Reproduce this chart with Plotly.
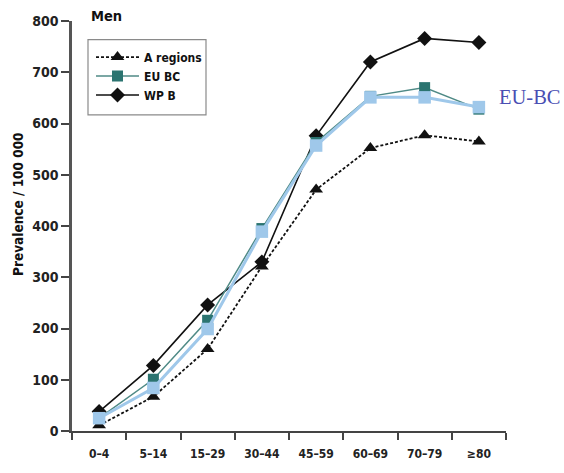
import plotly.graph_objects as go

categories = ["0–4", "5–14", "15–29", "30–44", "45–59", "60–69", "70–79", "≥80"]
a_regions = [11, 67, 160, 321, 471, 552, 577, 565]
eu_bc = [25, 101, 216, 395, 563, 653, 670, 628]
eu_bc_new = [25, 84, 199, 389, 557, 651, 651, 632]
wp_b = [38, 128, 246, 330, 576, 720, 766, 758]
y_ticks = [0, 100, 200, 300, 400, 500, 600, 700, 800]

TEAL = "#2b7470"
TEAL_LINE = "#4f8a86"
LIGHT = "#9fc8ea"
FONT = "DejaVu Sans Condensed, Liberation Sans Narrow, Arial"

# plot area on screen: x 72..506, y 21..440 (body margin removed below)
PX0, PX1, PY0, PY1 = 72, 506, 21, 440
W, H = 564, 473


def fx(px):
    return (px - PX0) / (PX1 - PX0)


def fy(py):
    return (PY1 - py) / (PY1 - PY0)


fig = go.Figure()
fig.add_trace(go.Scatter(
    x=categories, y=wp_b, name="WP B", mode="lines+markers", legendrank=3,
    line=dict(color="#111111", width=1.6),
    marker=dict(symbol="diamond", size=11.5, color="#111111"), cliponaxis=False))
fig.add_trace(go.Scatter(
    x=categories, y=a_regions, name="A regions", mode="lines+markers", legendrank=1,
    line=dict(color="#111111", width=1.8, dash="3px,2px"),
    marker=dict(symbol="triangle-up", size=12, color="#111111"), cliponaxis=False))
fig.add_trace(go.Scatter(
    x=categories, y=eu_bc, name="EU BC", mode="lines+markers", legendrank=2,
    line=dict(color=TEAL_LINE, width=1.5),
    marker=dict(symbol="square", size=11, color=TEAL), cliponaxis=False))
fig.add_trace(go.Scatter(
    x=categories, y=eu_bc_new, name="EU-BC", mode="lines+markers", showlegend=False,
    line=dict(color=LIGHT, width=3),
    marker=dict(symbol="square", size=12.5, color=LIGHT), cliponaxis=False))

fig.update_layout(
    width=W, height=H,
    margin=dict(l=PX0, r=W - PX1, t=PY0, b=H - PY1),
    plot_bgcolor="white", paper_bgcolor="white",
    font=dict(family=FONT, size=12, color="#222222"),
    showlegend=True,
    legend=dict(x=fx(91), y=fy(43), xanchor="left", yanchor="top",
                borderwidth=0, bgcolor="rgba(0,0,0,0)",
                font=dict(family=FONT, size=12, color="#111111", weight="bold"),
                tracegroupgap=0, itemwidth=43),
    xaxis=dict(type="category", range=[-0.5, 7.5], tickson="boundaries",
               ticks="outside", ticklen=7, tickwidth=1.5, tickcolor="#444444",
               showline=True, linecolor="#444444", linewidth=2,
               showgrid=False, zeroline=False, ticklabelstandoff=11,
               tickfont=dict(family=FONT, size=12, color="#222222", weight="bold")),
    yaxis=dict(range=[0, 800], tickvals=y_ticks,
               ticks="outside", ticklen=8, tickwidth=1.5, tickcolor="#444444",
               showline=True, linecolor="#555555", linewidth=2.5,
               showgrid=False, zeroline=False,
               tickfont=dict(family=FONT, size=14, color="#222222", weight="bold")),
    shapes=[
        dict(type="rect", xref="paper", yref="paper",
             x0=fx(88), x1=fx(206), y0=fy(117), y1=fy(40),
             line=dict(color="#8a8a8a", width=1.2), fillcolor="rgba(0,0,0,0)", layer="below"),
    ],
    annotations=[
        dict(text="<b>Prevalence / 100 000</b>", textangle=-90, xref="paper", yref="paper",
             x=0, y=fy(208), xshift=-54, xanchor="center", yanchor="middle", showarrow=False,
             font=dict(family=FONT, size=13.5, color="#111111")),
        dict(text="<b>Men</b>", xref="paper", yref="paper", x=fx(89), y=fy(16),
             xanchor="left", yanchor="middle", showarrow=False,
             font=dict(family=FONT, size=14.5, color="#111111")),
        dict(text="EU-BC", xref="paper", yref="paper", x=fx(497), y=fy(99),
             xanchor="left", yanchor="middle", showarrow=False,
             font=dict(family="Liberation Serif, DejaVu Serif, serif", size=20.5, color="#4a4fb3")),
    ],
)

fig.write_html(
    "out.html",
    config={"displayModeBar": False},
    post_script="document.body.style.margin='0';document.body.style.overflow='hidden';",
)
